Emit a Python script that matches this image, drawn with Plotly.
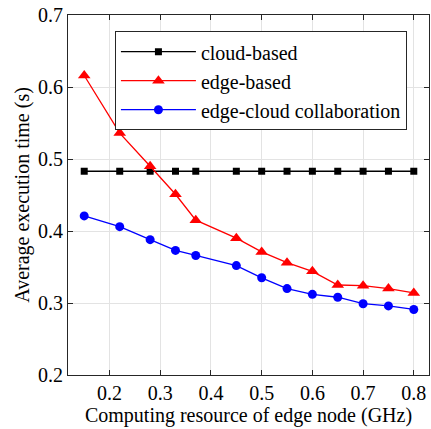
import plotly.graph_objects as go

x_vals = [0.15, 0.22, 0.28, 0.33, 0.37, 0.45, 0.5, 0.55, 0.6, 0.65, 0.7, 0.75, 0.8]
cloud_based = [0.483] * 13
edge_based = [0.616, 0.536, 0.490, 0.451, 0.415, 0.390, 0.371, 0.356, 0.344, 0.325, 0.324, 0.320, 0.314]
edge_cloud = [0.421, 0.406, 0.388, 0.373, 0.366, 0.352, 0.335, 0.320, 0.312, 0.308, 0.299, 0.296, 0.291]

x_ticks = [0.2, 0.3, 0.4, 0.5, 0.6, 0.7, 0.8]
y_ticks = [0.2, 0.3, 0.4, 0.5, 0.6, 0.7]

FONT = "Liberation Serif"

fig = go.Figure()
fig.add_trace(go.Scatter(x=x_vals, y=cloud_based, mode="lines+markers", name="cloud-based",
                         line=dict(color="black", width=1.3),
                         marker=dict(symbol="square", size=7, color="black")))
fig.add_trace(go.Scatter(x=x_vals, y=edge_based, mode="lines+markers", name="edge-based",
                         line=dict(color="#ff0000", width=1.3),
                         marker=dict(symbol="triangle-up", size=11, color="#ff0000")))
fig.add_trace(go.Scatter(x=x_vals, y=edge_cloud, mode="lines+markers", name="edge-cloud collaboration",
                         line=dict(color="#0000ff", width=1.3),
                         marker=dict(symbol="circle", size=9, color="#0000ff")))

axis_common = dict(showgrid=True, gridcolor="#e3e3e3", gridwidth=1,
                   showline=True, linecolor="#262626", linewidth=1.2, mirror="ticks",
                   ticks="inside", ticklen=5, tickcolor="#262626", zeroline=False,
                   tickfont=dict(family=FONT, size=20, color="black"), automargin=False)

fig.update_xaxes(range=[0.118, 0.83], tickvals=x_ticks, ticktext=[f"{v:.1f}" for v in x_ticks],
                 title=dict(text="Computing resource of edge node (GHz)",
                            font=dict(family=FONT, size=20, color="black"), standoff=1),
                 **axis_common)
fig.update_yaxes(range=[0.2, 0.7], tickvals=y_ticks, ticktext=[f"{v:.1f}" for v in y_ticks],
                 title=dict(text="Average execution time (s)",
                            font=dict(family=FONT, size=20, color="black"), standoff=2),
                 **axis_common)

fig.update_layout(
    width=431, height=429,
    margin=dict(l=68, r=2, t=15, b=54),
    paper_bgcolor="white", plot_bgcolor="white",
    font=dict(family=FONT, size=20, color="black"),
    showlegend=True,
    legend=dict(x=0.13, y=0.955, xanchor="left", yanchor="top",
                bgcolor="white", bordercolor="#262626", borderwidth=1,
                font=dict(family=FONT, size=20, color="black"),
                itemwidth=75, tracegroupgap=0),
)

fig.write_html("out.html", config={"displayModeBar": False},
               post_script="document.body.style.margin='0';document.body.style.padding='0';")
